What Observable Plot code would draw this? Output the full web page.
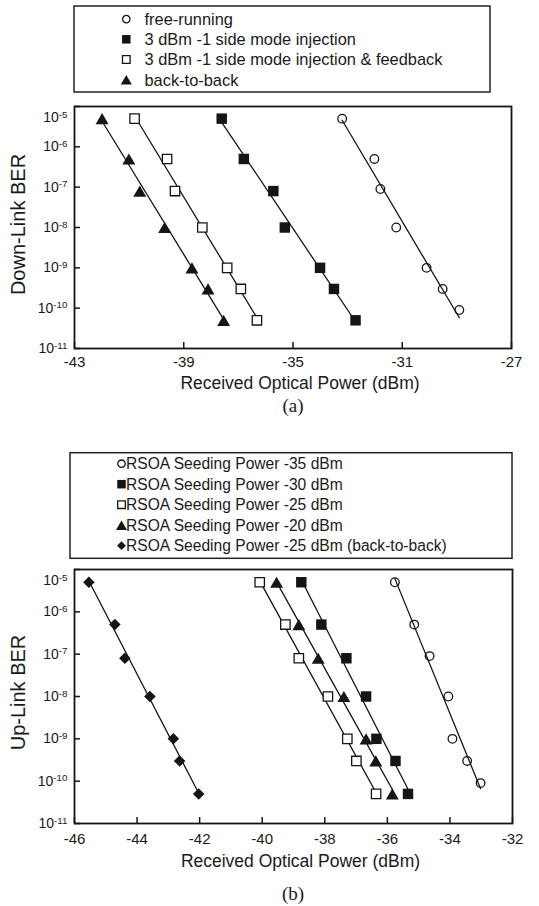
<!DOCTYPE html>
<html><head><meta charset="utf-8">
<script src="https://cdn.jsdelivr.net/npm/d3@7"></script>
<script src="https://cdn.jsdelivr.net/npm/@observablehq/plot@0.6"></script>
<style>
body{margin:0;background:#fff;}
#fig{position:relative;width:539px;height:906px;overflow:hidden;font-family:"Liberation Sans",Arial,sans-serif;color:#1a1a1a;}
.cap{position:absolute;font-family:"Liberation Serif","Times New Roman",serif;font-size:19px;line-height:1;transform:translate(-50%,-50%);white-space:nowrap;}
</style></head><body><div id="fig"></div>
<script>
// ---------- data: panel (a) down-link ----------
const dlNames = ["free-running","3 dBm -1 side mode injection","3 dBm -1 side mode injection & feedback","back-to-back"];
const dlFreeX   = [-33.20,-32.02,-31.80,-31.22,-30.11,-29.52,-28.91];
const dlFreeBER = [5e-6,5e-7,9e-8,1e-8,1e-9,3e-10,9e-11];
const dlInjX    = [-37.61,-36.80,-35.72,-35.30,-34.01,-33.50,-32.71];
const dlInjBER  = [5e-6,5e-7,8e-8,1e-8,1e-9,3e-10,5e-11];
const dlFbX     = [-40.80,-39.61,-39.32,-38.32,-37.41,-36.91,-36.32];
const dlFbBER   = [5e-6,5e-7,8e-8,1e-8,1e-9,3e-10,5e-11];
const dlB2bX    = [-41.99,-41.01,-40.61,-39.70,-38.70,-38.11,-37.54];
const dlB2bBER  = [5e-6,5e-7,8e-8,1e-8,1e-9,3e-10,5e-11];
const dlXTicks  = [-43,-39,-35,-31,-27];

// ---------- data: panel (b) up-link ----------
const ulNames = ["RSOA Seeding Power -35 dBm","RSOA Seeding Power -30 dBm","RSOA Seeding Power -25 dBm","RSOA Seeding Power -20 dBm","RSOA Seeding Power -25 dBm (back-to-back)"];
const ul35X   = [-35.76,-35.14,-34.65,-34.05,-33.92,-33.45,-33.02];
const ul35BER = [5e-6,5e-7,9e-8,1e-8,1e-9,3e-10,9e-11];
const ul30X   = [-38.75,-38.11,-37.31,-36.68,-36.35,-35.74,-35.34];
const ul30BER = [5e-6,5e-7,8e-8,1e-8,1e-9,3e-10,5e-11];
const ul25X   = [-40.08,-39.26,-38.83,-37.90,-37.28,-36.99,-36.36];
const ul25BER = [5e-6,5e-7,8e-8,1e-8,1e-9,3e-10,5e-11];
const ul20X   = [-39.54,-38.83,-38.21,-37.39,-36.68,-36.37,-35.84];
const ul20BER = [5e-6,5e-7,8e-8,1e-8,1e-9,3e-10,5e-11];
const ulB2bX  = [-45.54,-44.71,-44.39,-43.59,-42.84,-42.64,-42.03];
const ulB2bBER= [5e-6,5e-7,8e-8,1e-8,1e-9,3e-10,5e-11];
const ulXTicks = [-46,-44,-42,-40,-38,-36,-34,-32];

const yTicks = [1e-5,1e-6,1e-7,1e-8,1e-9,1e-10,1e-11];

// ---------- styles ----------
const INK = "#151515";
const triangle = {draw(ctx, size){const s=Math.sqrt(size*4/Math.sqrt(3)),h=s*Math.sqrt(3)/2;ctx.moveTo(0,-h/2);ctx.lineTo(s/2,h/2);ctx.lineTo(-s/2,h/2);ctx.closePath();}};
const diamond = {draw(ctx, size){const r=Math.sqrt(size)*0.62625;ctx.moveTo(0,-r);ctx.lineTo(r,0);ctx.lineTo(0,r);ctx.lineTo(-r,0);ctx.closePath();}};
const styleOf = {
  openCircle:   {symbol:"circle", r:4.3, fill:"none",  stroke:INK, d3:d3.symbolCircle},
  filledSquare: {symbol:"square", r:5.9, fill:INK,     stroke:"none", d3:d3.symbolSquare},
  openSquare:   {symbol:"square", r:5.3, fill:"white", stroke:INK, d3:d3.symbolSquare},
  filledTri:    {symbol:triangle, r:4.8, fill:INK,     stroke:"none", d3:triangle},
  filledDiamond:{symbol:diamond,  r:5.2, fill:INK,     stroke:"none", d3:diamond}
};

const dlSeries = [
  {name:dlNames[0], x:dlFreeX, ber:dlFreeBER, st:"openCircle"},
  {name:dlNames[1], x:dlInjX,  ber:dlInjBER,  st:"filledSquare"},
  {name:dlNames[2], x:dlFbX,   ber:dlFbBER,   st:"openSquare"},
  {name:dlNames[3], x:dlB2bX,  ber:dlB2bBER,  st:"filledTri"}
];
const ulSeries = [
  {name:ulNames[0], x:ul35X,  ber:ul35BER,  st:"openCircle"},
  {name:ulNames[1], x:ul30X,  ber:ul30BER,  st:"filledSquare"},
  {name:ulNames[2], x:ul25X,  ber:ul25BER,  st:"openSquare"},
  {name:ulNames[3], x:ul20X,  ber:ul20BER,  st:"filledTri"},
  {name:ulNames[4], x:ulB2bX, ber:ulB2bBER, st:"filledDiamond"}
];

function fitLine(s){
  const ly = s.ber.map(Math.log10);
  const mx = d3.mean(s.x), my = d3.mean(ly);
  const b = d3.sum(s.x,(x,i)=>(x-mx)*(ly[i]-my)) / d3.sum(s.x,x=>(x-mx)**2);
  const a = my - b*mx;
  const [x0,x1] = d3.extent(s.x);
  return [x0,x1].map(x=>({name:s.name, x, ber:10**(a+b*x)}));
}

const fig = document.getElementById("fig");

function panel({series, xDomain, xTicks, yLabel, xLabel, top, innerH, marginLeft, marginRight, tickPad, xLabelDy, xLabelDx, yLabelDy}){
  const marginTop = 10, marginBottom = 52, width = 539;
  const innerW = width - marginLeft - marginRight;
  const pts = series.flatMap(s => s.x.map((x,i)=>({name:s.name, x, ber:s.ber[i]})));
  const fits = series.flatMap(fitLine);
  const marks = [
    Plot.line(fits, {x:"x", y:"ber", z:"name", stroke:INK, strokeWidth:1.3}),
    ...series.map(s => {
      const st = styleOf[s.st];
      return Plot.dot(pts.filter(p=>p.name===s.name), {x:"x", y:"ber", symbol:st.symbol, r:st.r, fill:st.fill, stroke:st.stroke, strokeWidth:1.3});
    }),
    Plot.tickX(xTicks, {x:d=>d, insetTop: innerH-6, stroke:INK, strokeWidth:1.5}),
    Plot.tickY(yTicks, {y:d=>d, insetRight: innerW-6, stroke:INK, strokeWidth:1.5}),
    Plot.axisX({ticks:xTicks, tickSize:0, tickPadding:tickPad, tickFormat:d=>String(d), label:null, fontSize:15}),
    Plot.axisY({ticks:yTicks, tickSize:0, tickPadding:7, tickFormat:d=>String(Math.round(Math.log10(d))), label:null, fontSize:14}),
    Plot.text([xLabel], {text:d=>d, frameAnchor:"bottom", textAnchor:"middle", lineAnchor:"middle", dy:xLabelDy, dx:xLabelDx, fontSize:17.5, fill:"#1a1a1a"}),
    Plot.text([yLabel], {text:d=>d, frameAnchor:"left", textAnchor:"middle", lineAnchor:"middle", rotate:-90, dx:-56, dy:yLabelDy, fontSize:20, fill:"#1a1a1a"}),
    Plot.frame({stroke:INK, strokeWidth:1.8})
  ];
  const svg = Plot.plot({
    width, height: marginTop+innerH+marginBottom, marginTop, marginBottom, marginLeft, marginRight,
    x:{domain:xDomain},
    y:{type:"log", domain:[1e-11,1e-5]},
    style:{fontFamily:"'Liberation Sans',Arial,sans-serif", color:"#1a1a1a", background:"transparent", overflow:"visible"},
    marks
  });
  // superscript decade labels: 10^n
  const labels = svg.querySelectorAll('g[aria-label="y-axis tick label"] text');
  labels.forEach((t)=>{
    const e = t.textContent.trim();
    t.textContent = "";
    const base = document.createElementNS("http://www.w3.org/2000/svg","tspan");
    base.textContent = "10";
    const sup = document.createElementNS("http://www.w3.org/2000/svg","tspan");
    sup.setAttribute("dy","-0.45em"); sup.setAttribute("font-size","0.7em");
    sup.textContent = e;
    t.appendChild(base); t.appendChild(sup);
    if (e === "-5") t.setAttribute("dy","0.8em");
  });
  svg.style.position = "absolute"; svg.style.left = "0px"; svg.style.top = top + "px";
  fig.appendChild(svg);
}

function legend({series, top, boxX, boxY, boxW, boxH, symX, textX, baseY, step, fontSize, symR}){
  const svg = d3.create("svg").attr("width",539).attr("height",boxY+boxH+4)
    .style("position","absolute").style("left","0px").style("top",top+"px")
    .style("font-family","'Liberation Sans',Arial,sans-serif");
  svg.append("rect").attr("x",boxX).attr("y",boxY).attr("width",boxW).attr("height",boxH)
    .attr("fill","white").attr("stroke","#222").attr("stroke-width",1.5);
  series.forEach((s,i)=>{
    const st = styleOf[s.st];
    const by = baseY + i*step, cy = by - fontSize*0.36;
    const sz = Math.PI*symR[s.st]**2;
    svg.append("path").attr("transform",`translate(${symX},${cy})`)
      .attr("d", d3.symbol(st.d3, sz)())
      .attr("fill", st.fill==="none"?"none":st.fill).attr("stroke", st.stroke).attr("stroke-width",1.3);
    svg.append("text").attr("x",textX).attr("y",by).attr("font-size",fontSize).attr("fill","#1a1a1a").text(s.name);
  });
  fig.appendChild(svg.node());
}

const legR = {openCircle:3.7, filledSquare:4.8, openSquare:4.3, filledTri:4.1, filledDiamond:4.0};
legend({series:dlSeries, top:0, boxX:74, boxY:6, boxW:416, boxH:86, symX:126.3, textX:144.5, baseY:25, step:20.2, fontSize:16.4, symR:legR});
legend({series:ulSeries, top:440, boxX:70, boxY:12.7, boxW:442, boxH:105.6, symX:121.5, textX:126, baseY:29.3, step:20.5, fontSize:15.6, symR:legR});

panel({series:dlSeries, xDomain:[-43,-27], xTicks:dlXTicks, yLabel:"Down-Link BER", xLabel:"Received Optical Power (dBm)",
  top:96, innerH:242, marginLeft:74, marginRight:28, tickPad:8, xLabelDy:35, xLabelDx:7, yLabelDy:-3});
panel({series:ulSeries, xDomain:[-46,-32], xTicks:ulXTicks, yLabel:"Up-Link BER", xLabel:"Received Optical Power (dBm)",
  top:559, innerH:254, marginLeft:74, marginRight:27, tickPad:10, xLabelDy:38, xLabelDx:7, yLabelDy:-4});

const capA = document.createElement("div"); capA.className="cap"; capA.textContent="(a)";
capA.style.left="293px"; capA.style.top="405px"; fig.appendChild(capA);
const capB = document.createElement("div"); capB.className="cap"; capB.textContent="(b)";
capB.style.left="293px"; capB.style.top="893px"; fig.appendChild(capB);
</script></body></html>
